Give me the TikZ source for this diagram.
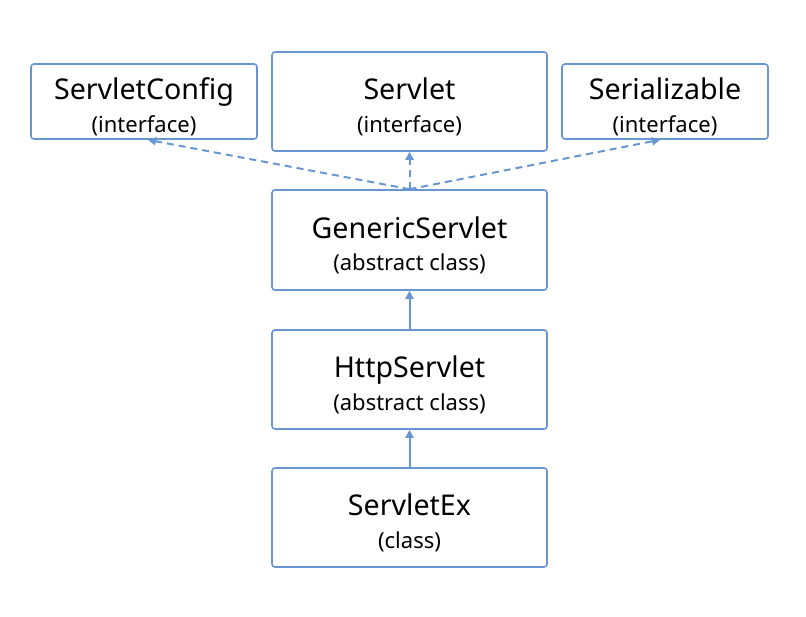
\documentclass[tikz,border=0pt]{standalone}
\usepackage{fontspec}
\setmainfont{Noto Sans}
\usetikzlibrary{arrows.meta}
\definecolor{bl}{RGB}{104,150,210}
\newcommand{\twoline}[2]{\raisebox{0pt}[\height][\dimexpr\depth-11pt\relax]{\begin{tabular}{@{}c@{}}\fontsize{28.6}{28}\selectfont #1\\[12pt]\fontsize{22}{28}\selectfont #2\end{tabular}}}
\begin{document}
\begin{tikzpicture}[x=1pt,y=-1pt,
  box/.style={draw=bl,line width=1.6pt,rounded corners=3pt,fill=white,inner sep=0pt,
    minimum width=#1},
  arr/.style={draw=bl,line width=2pt,-{Triangle[length=8pt,width=8pt]}},
  darr/.style={arr,dash pattern=on 7pt off 5pt}]
\useasboundingbox (0,0) rectangle (806,616);
\node[box=226pt,minimum height=75pt] (sc) at (144,101.5) {\twoline{ServletConfig}{(interface)}};
\node[box=275pt,minimum height=99pt] (sv) at (409.5,101.5) {\twoline{Servlet}{(interface)}};
\node[box=206pt,minimum height=75pt] (sz) at (665,101.5) {\twoline{Serializable}{(interface)}};
\node[box=275pt,minimum height=100pt] (gs) at (409.5,240) {\twoline{GenericServlet}{(abstract class)}};
\node[box=275pt,minimum height=99pt] (hs) at (409.5,379.5) {\twoline{HttpServlet}{(abstract class)}};
\node[box=275pt,minimum height=99pt] (se) at (409.5,517.5) {\twoline{ServletEx}{(class)}};
\coordinate (top) at (gs.north);
\draw[darr] (top) -- ([xshift=4pt]sc.south);
\draw[darr] (top) -- (sv.south);
\draw[darr] (top) -- ([xshift=-5pt]sz.south);
\draw[arr] (hs.north) -- (gs.south);
\draw[arr] (se.north) -- (hs.south);
\end{tikzpicture}
\end{document}
